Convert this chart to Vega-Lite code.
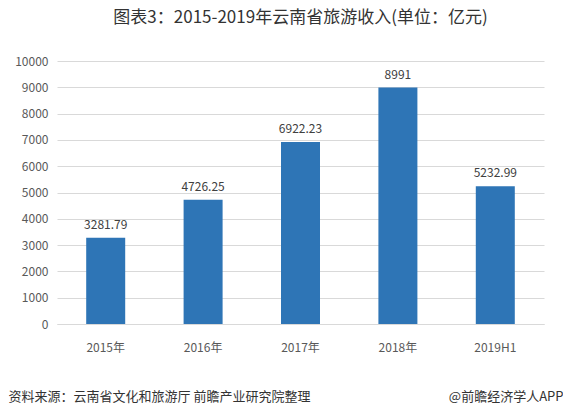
{
  "$schema": "https://vega.github.io/schema/vega-lite/v6.json",
  "width": 487,
  "height": 263,
  "autosize": {"type": "none"},
  "padding": {"left": 57, "top": 61, "right": 19, "bottom": 85},
  "background": "white",
  "title": {
    "text": "图表3：2015-2019年云南省旅游收入(单位：亿元)",
    "font": "Noto Sans CJK SC",
    "fontSize": 17,
    "fontWeight": "normal",
    "color": "#333333",
    "anchor": "middle",
    "frame": "group",
    "offset": 28
  },
  "data": {
    "values": [
      {"year": "2015年", "value": 3281.79},
      {"year": "2016年", "value": 4726.25},
      {"year": "2017年", "value": 6922.23},
      {"year": "2018年", "value": 8991},
      {"year": "2019H1", "value": 5232.99}
    ]
  },
  "encoding": {
    "x": {
      "field": "year",
      "type": "nominal",
      "sort": null,
      "scale": {"paddingInner": 0.6, "paddingOuter": 0.3},
      "axis": {
        "title": "资料来源：云南省文化和旅游厅 前瞻产业研究院整理",
        "titleFont": "Noto Sans CJK SC",
        "titleFontSize": 13,
        "titleFontWeight": "normal",
        "titleColor": "#333333",
        "titleAnchor": "start",
        "titleAlign": "left",
        "titleBaseline": "middle",
        "titleX": -49,
        "titleY": 72,
        "labelAngle": 0,
        "labelFont": "Noto Sans CJK SC",
        "labelFontSize": 12,
        "labelColor": "#595959",
        "labelPadding": 18,
        "ticks": false,
        "domainColor": "#d9d9d9",
        "grid": false
      }
    },
    "y": {
      "field": "value",
      "type": "quantitative",
      "scale": {"domain": [0, 10000], "nice": false},
      "axis": {
        "values": [0, 1000, 2000, 3000, 4000, 5000, 6000, 7000, 8000, 9000, 10000],
        "format": "d",
        "title": "@前瞻经济学人APP",
        "titleFont": "Noto Sans CJK SC",
        "titleFontSize": 13,
        "titleFontWeight": "normal",
        "titleColor": "#333333",
        "titleAngle": 0,
        "titleAlign": "right",
        "titleBaseline": "middle",
        "titleX": 506,
        "titleY": 335,
        "labelFont": "Noto Sans CJK SC",
        "labelFontSize": 12,
        "labelColor": "#595959",
        "labelPadding": 9,
        "ticks": false,
        "domain": false,
        "gridColor": "#d9d9d9",
        "gridWidth": 1
      }
    }
  },
  "layer": [
    {"mark": {"type": "bar", "color": "#2E75B6", "width": 39}},
    {
      "mark": {
        "type": "text",
        "baseline": "bottom",
        "dy": -6,
        "font": "Noto Sans CJK SC",
        "fontSize": 12,
        "color": "#404040"
      },
      "encoding": {"text": {"field": "value", "type": "quantitative", "format": ""}}
    }
  ],
  "config": {"view": {"stroke": null}}
}
